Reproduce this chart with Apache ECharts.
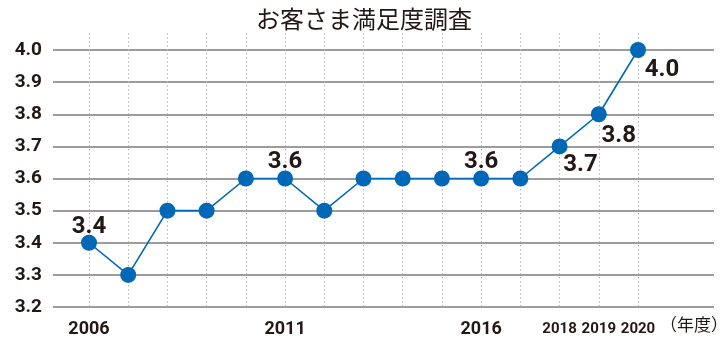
<!DOCTYPE html>
<html><head><meta charset="utf-8">
<script src="https://cdn.jsdelivr.net/npm/echarts@6/dist/echarts.min.js"></script>
<style>html,body{margin:0;padding:0;background:#fff}#c{width:728px;height:346px}</style>
</head><body><div id="c"></div>
<script>
const years = ['2006','2007','2008','2009','2010','2011','2012','2013','2014','2015','2016','2017','2018','2019','2020'];
const scores = [3.4, 3.3, 3.5, 3.5, 3.6, 3.6, 3.5, 3.6, 3.6, 3.6, 3.6, 3.6, 3.7, 3.8, 4.0];
const shownYears = ['2006','2011','2016','2018','2019','2020'];
const labelledYears = ['2006','2011','2016','2018','2019','2020'];
const yTicks = [3.2, 3.3, 3.4, 3.5, 3.6, 3.7, 3.8, 3.9, 4.0];
const titleText = 'お客さま満足度調査';
const unitText = '（年度）';

const ink = '#231815';
const blue = '#0068b7';
const numFont = "Roboto, sans-serif";
const cjkFont = "'Noto Sans CJK JP', sans-serif";

// label placement (style) per labelled year
const placement = {
  '2006': {position: 'top', offset: [0, 9]},
  '2011': {position: 'top', offset: [0, 8]},
  '2016': {position: 'top', offset: [0, 8]},
  '2018': {position: 'bottom', offset: [21, -6]},
  '2019': {position: 'bottom', offset: [20, -3]},
  '2020': {position: 'bottom', offset: [24, -5]}
};

const seriesData = years.map((y, i) => {
  const item = {value: scores[i]};
  if (labelledYears.includes(y)) {
    item.label = Object.assign({show: true}, placement[y]);
  }
  return item;
});

const chart = echarts.init(document.getElementById('c'));
chart.setOption({
  animation: false,
  backgroundColor: '#fff',
  title: {
    text: titleText, left: 'center', top: 2,
    textStyle: {fontFamily: cjkFont, fontSize: 24, fontWeight: 'normal', color: ink}
  },
  grid: [
    {left: 53, right: 14, top: 50, bottom: 39},
    {left: 89, right: 90, top: 50, bottom: 39},
    {left: 89, right: 90, top: 33, bottom: 39}
  ],
  xAxis: [
    {gridIndex: 0, type: 'value', show: false, min: 0, max: 1},
    {gridIndex: 1, type: 'category', data: years, boundaryGap: false,
     axisLine: {show: false}, axisTick: {show: false}, splitLine: {show: false},
     axisLabel: {
       interval: 0, margin: 13,
       formatter: v => shownYears.includes(v) ? (v >= '2018' ? '{n|' + v + '}' : '{w|' + v + '}') : '',
       rich: {
         w: {fontFamily: numFont, fontWeight: 'bold', fontSize: 18, color: ink},
         n: {fontFamily: numFont, fontWeight: 'bold', fontSize: 15, color: ink, padding: [2, 0, 0, 0]}
       }
     }},
    {gridIndex: 2, type: 'category', data: years, boundaryGap: false,
     axisLine: {show: false}, axisTick: {show: false}, axisLabel: {show: false},
     splitLine: {show: true, showMinLine: true, showMaxLine: true, interval: 0,
       lineStyle: {color: '#b5b5b5', width: 1, type: [1.5, 2.5]}}}
  ],
  yAxis: [
    {gridIndex: 0, type: 'value', min: yTicks[0], max: yTicks[yTicks.length - 1], interval: 0.1,
     axisLine: {show: false}, axisTick: {show: false},
     axisLabel: {margin: 11, formatter: v => v.toFixed(1),
       fontFamily: numFont, fontWeight: 'bold', fontSize: 19, color: ink},
     splitLine: {show: true, lineStyle: {color: '#9c9c9c', width: 2}}},
    {gridIndex: 1, type: 'value', min: yTicks[0], max: yTicks[yTicks.length - 1], show: false},
    {gridIndex: 2, type: 'value', min: 0, max: 1, show: false}
  ],
  series: [{
    type: 'line', xAxisIndex: 1, yAxisIndex: 1,
    data: seriesData,
    symbol: 'circle', symbolSize: 16,
    lineStyle: {color: blue, width: 1.6},
    itemStyle: {color: blue},
    label: {show: false, formatter: p => p.value.toFixed(1),
      fontFamily: numFont, fontWeight: 'bold', fontSize: 24, color: ink},
    z: 5
  }],
  graphic: [{
    type: 'text', left: 660, top: 316,
    style: {text: unitText, fontFamily: cjkFont, fontSize: 17, fill: ink}
  }]
});
</script>
</body></html>
